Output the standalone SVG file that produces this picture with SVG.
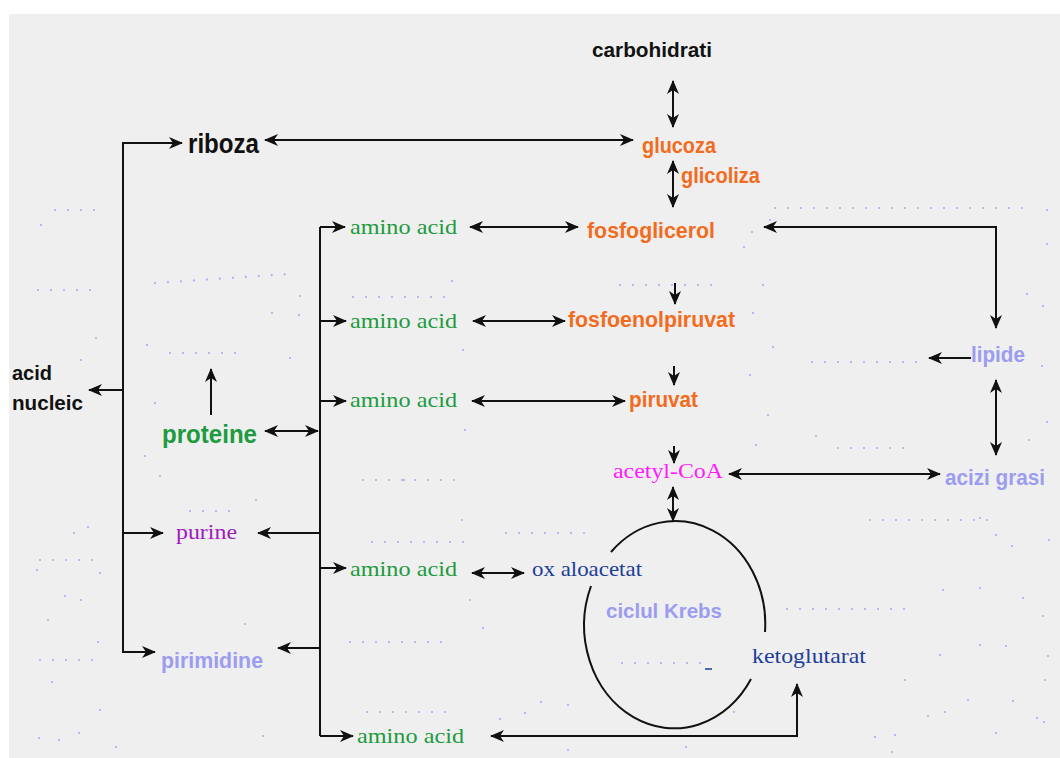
<svg xmlns="http://www.w3.org/2000/svg" width="1060" height="758" viewBox="0 0 1060 758">
<style>
.bg{fill:#efefef}
.ln{fill:none;stroke:#111;stroke-width:2}
.dots{fill:none;stroke:#a9acf2;stroke-width:2.2;stroke-linecap:round;stroke-dasharray:0 13}
.sb{font-family:"Liberation Sans",Arial,sans-serif;font-weight:bold}
.sf{font-family:"Liberation Serif","Times New Roman",serif}
.blk{fill:#111}
.org{fill:#f36b1c}
.grn{fill:#1d9b3e}
.lb{fill:#9c9cf0}
.db{fill:#1d3e98}
.mag{fill:#ff1aff}
.pur{fill:#a01ac0}
</style>
<defs>
<marker id="ah" viewBox="0 0 14 12" markerWidth="14" markerHeight="12" refX="13" refY="6" orient="auto-start-reverse" markerUnits="userSpaceOnUse">
<path d="M0,0 L14,6 L0,12 L4,6 z" fill="#111"/>
</marker>
</defs>
<rect x="0" y="0" width="1060" height="758" fill="#ffffff"/>
<rect class="bg" x="9" y="14" width="1051" height="744"/>
<g id="dots">
<path class="dots" d="M775,208 H1030 M812,362 H918 M838,448 H910 M55,210 H98 M38,290 H100 M155,283 L290,274 M170,353 H240 M622,663 H702 M787,609 H906 M506,533 H588 M190,511 H240 M372,542 H465 M350,642 H450 M367,712 H450 M353,297 H455 M363,480 H465 M620,285 H720 M870,520 H1000 M40,560 H100 M40,660 H100"/>
<g fill="#a9acf2">
<circle cx="41" cy="225" r="1.1"/><circle cx="96" cy="338" r="1.1"/><circle cx="81" cy="360" r="1.1"/><circle cx="147" cy="345" r="1.1"/>
<circle cx="155" cy="403" r="1.1"/><circle cx="145" cy="456" r="1.1"/><circle cx="160" cy="476" r="1.1"/><circle cx="256" cy="500" r="1.1"/>
<circle cx="272" cy="313" r="1.1"/><circle cx="299" cy="315" r="1.1"/><circle cx="290" cy="358" r="1.1"/><circle cx="300" cy="296" r="1.1"/>
<circle cx="74" cy="533" r="1.1"/><circle cx="88" cy="527" r="1.1"/><circle cx="37" cy="570" r="1.1"/><circle cx="100" cy="573" r="1.1"/>
<circle cx="65" cy="596" r="1.1"/><circle cx="81" cy="600" r="1.1"/><circle cx="48" cy="620" r="1.1"/><circle cx="98" cy="642" r="1.1"/>
<circle cx="52" cy="682" r="1.1"/><circle cx="100" cy="710" r="1.1"/><circle cx="39" cy="738" r="1.1"/><circle cx="59" cy="740" r="1.1"/>
<circle cx="79" cy="733" r="1.1"/><circle cx="116" cy="747" r="1.1"/><circle cx="245" cy="624" r="1.1"/><circle cx="263" cy="736" r="1.1"/>
<circle cx="470" cy="600" r="1.1"/><circle cx="483" cy="628" r="1.1"/><circle cx="462" cy="520" r="1.1"/><circle cx="404" cy="480" r="1.1"/>
<circle cx="463" cy="350" r="1.1"/><circle cx="465" cy="430" r="1.1"/><circle cx="452" cy="281" r="1.1"/><circle cx="763" cy="285" r="1.1"/>
<circle cx="770" cy="220" r="1.1"/><circle cx="752" cy="232" r="1.1"/><circle cx="744" cy="247" r="1.1"/><circle cx="1047" cy="210" r="1.1"/>
<circle cx="1047" cy="244" r="1.1"/><circle cx="1027" cy="294" r="1.1"/><circle cx="1043" cy="306" r="1.1"/><circle cx="1042" cy="366" r="1.1"/>
<circle cx="1047" cy="422" r="1.1"/><circle cx="1029" cy="440" r="1.1"/><circle cx="753" cy="313" r="1.1"/><circle cx="773" cy="347" r="1.1"/>
<circle cx="750" cy="375" r="1.1"/><circle cx="768" cy="415" r="1.1"/><circle cx="816" cy="436" r="1.1"/><circle cx="756" cy="445" r="1.1"/>
<circle cx="980" cy="518" r="1.1"/><circle cx="996" cy="535" r="1.1"/><circle cx="1049" cy="540" r="1.1"/><circle cx="1012" cy="546" r="1.1"/>
<circle cx="943" cy="590" r="1.1"/><circle cx="980" cy="588" r="1.1"/><circle cx="1023" cy="598" r="1.1"/><circle cx="1043" cy="616" r="1.1"/>
<circle cx="940" cy="655" r="1.1"/><circle cx="980" cy="645" r="1.1"/><circle cx="1006" cy="646" r="1.1"/><circle cx="1048" cy="656" r="1.1"/>
<circle cx="905" cy="680" r="1.1"/><circle cx="968" cy="700" r="1.1"/><circle cx="1013" cy="701" r="1.1"/><circle cx="1045" cy="680" r="1.1"/>
<circle cx="928" cy="716" r="1.1"/><circle cx="945" cy="712" r="1.1"/><circle cx="996" cy="733" r="1.1"/><circle cx="1044" cy="722" r="1.1"/>
<circle cx="875" cy="737" r="1.1"/><circle cx="895" cy="735" r="1.1"/><circle cx="1037" cy="718" r="1.1"/><circle cx="892" cy="752" r="1.1"/>
<circle cx="568" cy="705" r="1.1"/><circle cx="525" cy="713" r="1.1"/><circle cx="541" cy="702" r="1.1"/><circle cx="500" cy="719" r="1.1"/>
<circle cx="568" cy="750" r="1.1"/><circle cx="734" cy="712" r="1.1"/><circle cx="686" cy="747" r="1.1"/>
</g>
</g>
<g id="connectors">
<path class="ln" d="M673,81 V127" marker-start="url(#ah)" marker-end="url(#ah)"/>
<path class="ln" d="M265,140 H633" marker-start="url(#ah)" marker-end="url(#ah)"/>
<path class="ln" d="M123,390 V143 H182" marker-end="url(#ah)"/>
<path class="ln" d="M123,390 V652 H155" marker-end="url(#ah)"/>
<path class="ln" d="M123,533 H163" marker-end="url(#ah)"/>
<path class="ln" d="M123,390 H89" marker-end="url(#ah)"/>
<path class="ln" d="M211,415 V369" marker-end="url(#ah)"/>
<path class="ln" d="M265,431 H318" marker-start="url(#ah)" marker-end="url(#ah)"/>
<path class="ln" d="M320,227 V736"/>
<path class="ln" d="M320,227 H345" marker-end="url(#ah)"/>
<path class="ln" d="M320,321 H346" marker-end="url(#ah)"/>
<path class="ln" d="M320,401 H346" marker-end="url(#ah)"/>
<path class="ln" d="M320,568 H346" marker-end="url(#ah)"/>
<path class="ln" d="M320,736 H353" marker-end="url(#ah)"/>
<path class="ln" d="M320,533 H258" marker-end="url(#ah)"/>
<path class="ln" d="M320,648 H278" marker-end="url(#ah)"/>
<path class="ln" d="M470,227 H578" marker-start="url(#ah)" marker-end="url(#ah)"/>
<path class="ln" d="M673,161 V207" marker-start="url(#ah)" marker-end="url(#ah)"/>
<path class="ln" d="M764,227 H996 V328" marker-start="url(#ah)" marker-end="url(#ah)"/>
<path class="ln" d="M675,283 V304" marker-end="url(#ah)"/>
<path class="ln" d="M473,321 H565" marker-start="url(#ah)" marker-end="url(#ah)"/>
<path class="ln" d="M674,366 V385" marker-end="url(#ah)"/>
<path class="ln" d="M472,401 H625" marker-start="url(#ah)" marker-end="url(#ah)"/>
<path class="ln" d="M674,446 V463" marker-end="url(#ah)"/>
<path class="ln" d="M729,474 H940" marker-start="url(#ah)" marker-end="url(#ah)"/>
<path class="ln" d="M971,358 H929" marker-end="url(#ah)"/>
<path class="ln" d="M996,380 V455" marker-start="url(#ah)" marker-end="url(#ah)"/>
<path class="ln" d="M673,487 V521" marker-start="url(#ah)" marker-end="url(#ah)"/>
<path class="ln" d="M472,573 H524" marker-start="url(#ah)" marker-end="url(#ah)"/>
<path class="ln" d="M797,684 V736 H491" marker-start="url(#ah)" marker-end="url(#ah)"/>
</g>
<g id="krebs-cycle">
<path class="ln" d="M611,552 A90,103 0 0 1 765,632"/>
<path class="ln" d="M751,679 A90,103 0 0 1 591,586"/>
<path d="M705,669 H712" stroke="#1d3e98" stroke-width="1.5"/>
<text class="sb lb" x="606" y="618" font-size="21" textLength="116" lengthAdjust="spacingAndGlyphs">ciclul Krebs</text>
</g>
<g id="carbohidrati"><text class="sb blk" x="592" y="57" font-size="21" textLength="120" lengthAdjust="spacingAndGlyphs">carbohidrati</text></g>
<g id="riboza"><text class="sb blk" x="188" y="153" font-size="27" textLength="71" lengthAdjust="spacingAndGlyphs">riboza</text></g>
<g id="glucoza"><text class="sb org" x="642" y="153" font-size="22" textLength="74" lengthAdjust="spacingAndGlyphs">glucoza</text></g>
<g id="glicoliza"><text class="sb org" x="681" y="183" font-size="22" textLength="79" lengthAdjust="spacingAndGlyphs">glicoliza</text></g>
<g id="fosfoglicerol"><text class="sb org" x="587" y="238" font-size="22" textLength="128" lengthAdjust="spacingAndGlyphs">fosfoglicerol</text></g>
<g id="fosfoenolpiruvat"><text class="sb org" x="568" y="327" font-size="22" textLength="167" lengthAdjust="spacingAndGlyphs">fosfoenolpiruvat</text></g>
<g id="piruvat"><text class="sb org" x="629" y="407" font-size="22" textLength="69" lengthAdjust="spacingAndGlyphs">piruvat</text></g>
<g id="acetyl-coa"><text class="sf mag" x="613" y="478" font-size="20" textLength="110" lengthAdjust="spacingAndGlyphs">acetyl-CoA</text></g>
<g id="lipide"><text class="sb lb" x="971" y="362" font-size="22" textLength="54" lengthAdjust="spacingAndGlyphs">lipide</text></g>
<g id="acizi-grasi"><text class="sb lb" x="945" y="485" font-size="22" textLength="100" lengthAdjust="spacingAndGlyphs">acizi grasi</text></g>
<g id="acid-nucleic"><text class="sb blk" font-size="21"><tspan x="12" y="380" textLength="40" lengthAdjust="spacingAndGlyphs">acid</tspan><tspan x="12" y="410" textLength="71" lengthAdjust="spacingAndGlyphs">nucleic</tspan></text></g>
<g id="proteine"><text class="sb grn" x="162" y="443" font-size="26" textLength="95" lengthAdjust="spacingAndGlyphs">proteine</text></g>
<g id="purine"><text class="sf pur" x="176" y="539" font-size="21" textLength="61" lengthAdjust="spacingAndGlyphs">purine</text></g>
<g id="pirimidine"><text class="sb lb" x="161" y="668" font-size="22" textLength="102" lengthAdjust="spacingAndGlyphs">pirimidine</text></g>
<g id="amino-acid-1"><text class="sf grn" x="350" y="234" font-size="21" textLength="107" lengthAdjust="spacingAndGlyphs">amino acid</text></g>
<g id="amino-acid-2"><text class="sf grn" x="350" y="328" font-size="21" textLength="107" lengthAdjust="spacingAndGlyphs">amino acid</text></g>
<g id="amino-acid-3"><text class="sf grn" x="350" y="407" font-size="21" textLength="107" lengthAdjust="spacingAndGlyphs">amino acid</text></g>
<g id="amino-acid-4"><text class="sf grn" x="350" y="576" font-size="21" textLength="107" lengthAdjust="spacingAndGlyphs">amino acid</text></g>
<g id="amino-acid-5"><text class="sf grn" x="357" y="743" font-size="21" textLength="107" lengthAdjust="spacingAndGlyphs">amino acid</text></g>
<g id="oxaloacetat"><text class="sf db" x="532" y="576" font-size="21" textLength="110" lengthAdjust="spacingAndGlyphs">ox aloacetat</text></g>
<g id="ketoglutarat"><text class="sf db" x="752" y="663" font-size="21" textLength="114" lengthAdjust="spacingAndGlyphs">ketoglutarat</text></g>
</svg>
